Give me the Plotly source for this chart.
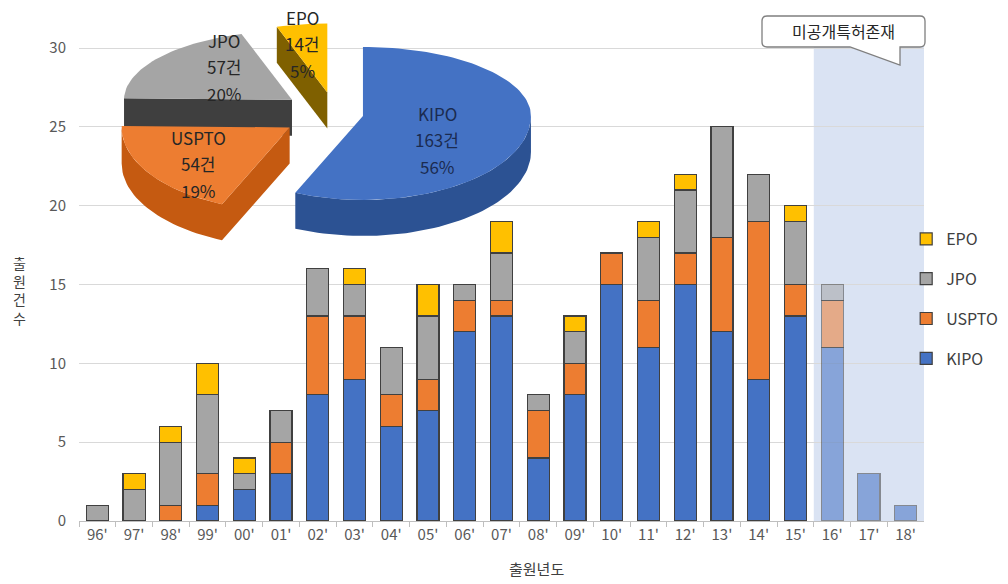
import math
import plotly.graph_objects as go

# ---------------- data ----------------
years = ["96'", "97'", "98'", "99'", "00'", "01'", "02'", "03'", "04'", "05'", "06'", "07'",
         "08'", "09'", "10'", "11'", "12'", "13'", "14'", "15'", "16'", "17'", "18'"]
kipo  = [0, 0, 0, 1, 2, 3, 8, 9, 6, 7, 12, 13, 4, 8, 15, 11, 15, 12, 9, 13, 11, 3, 1]
uspto = [0, 0, 1, 2, 0, 2, 5, 4, 2, 2, 2, 1, 3, 2, 2, 3, 2, 6, 10, 2, 3, 0, 0]
jpo   = [1, 2, 4, 5, 1, 2, 3, 2, 3, 4, 1, 3, 1, 2, 0, 4, 4, 7, 3, 4, 1, 0, 0]
epo   = [0, 1, 1, 2, 1, 0, 0, 1, 0, 2, 0, 2, 0, 1, 0, 1, 1, 0, 0, 1, 0, 0, 0]
unpublished_years = ["16'", "17'", "18'"]

offices = ["KIPO", "USPTO", "JPO", "EPO"]
office_pct = [56, 19, 20, 5]          # percentages as printed on the pie
callout_text = "미공개특허존재"

# ---------------- styles ----------------
FONT = "Noto Sans CJK KR"
colors = {"KIPO": "#4472c4", "USPTO": "#ed7d31", "JPO": "#a5a5a5", "EPO": "#ffc000"}
side_colors = {"KIPO": "#2c5293", "USPTO": "#c55a11", "JPO": "#3f3f3f", "EPO": "#7f6000"}
label_colors = {"KIPO": "#1b2b50", "USPTO": "#262626", "JPO": "#262626", "EPO": "#262626"}
legend_rank = {"EPO": 1, "JPO": 2, "USPTO": 3, "KIPO": 4}

W, H = 1008, 584
PX_L, PX_R, PX_T, PX_B = 79, 924, 46, 521
Y_MAX = (PX_B - PX_T) / ((521 - 48) / 30)

fig = go.Figure()

series = {"KIPO": kipo, "USPTO": uspto, "JPO": jpo, "EPO": epo}
opac = [0.55 if y in unpublished_years else 1.0 for y in years]
for name in ["KIPO", "USPTO", "JPO", "EPO"]:
    vals = [v if v else None for v in series[name]]
    fig.add_trace(go.Bar(
        x=years, y=vals, name=name, legendgroup=name, legendrank=legend_rank[name],
        marker=dict(color=colors[name], opacity=opac,
                    line=dict(color="#404040", width=1.2)),
        xaxis="x", yaxis="y",
    ))

# ---------------- 3D-style pie on a pixel overlay axis ----------------
totals = {name: sum(series[name]) for name in offices}
grand = sum(totals.values())
C0 = (335.0, 113.0)
RX, RY_BACK, RY_FRONT, DEPTH = 168.0, 69.0, 84.0, 36.0
explode = {"KIPO": 0.17, "USPTO": 0.32, "JPO": 0.32, "EPO": 0.30}


def ell(cx, cy, a):
    r = math.radians(a)
    s, c = math.sin(r), math.cos(r)
    ry = RY_BACK if c > 0 else RY_FRONT
    return (cx + RX * s, cy - ry * c)


def arc(cx, cy, a0, a1):
    n = max(2, int(abs(a1 - a0) / 2) + 1)
    return [ell(cx, cy, a0 + (a1 - a0) * i / (n - 1)) for i in range(n)]


angles = {}
acc = 0.0
for name in offices:
    frac = totals[name] / grand
    angles[name] = (acc * 360, (acc + frac) * 360)
    acc += frac

geom = {}
for name in offices:
    a0, a1 = angles[name]
    b = (a0 + a1) / 2
    dx, dy = ell(0, 0, b)
    cx, cy = C0[0] + dx * explode[name], C0[1] + dy * explode[name]
    top = [(cx, cy)] + arc(cx, cy, a0, a1) + [(cx, cy)]
    sides = []
    lo, hi = max(a0, 90), min(a1, 270)
    if hi > lo:
        pts = arc(cx, cy, lo, hi)
        sides.append(pts + [(x, y + DEPTH) for x, y in reversed(pts)])
    if math.sin(math.radians(a0)) < -1e-6:
        p = ell(cx, cy, a0)
        sides.append([(cx, cy), p, (p[0], p[1] + DEPTH), (cx, cy + DEPTH)])
    if math.sin(math.radians(a1)) > 1e-6:
        p = ell(cx, cy, a1)
        sides.append([(cx, cy), p, (p[0], p[1] + DEPTH), (cx, cy + DEPTH)])
    geom[name] = (top, sides)

for name in ["JPO", "EPO", "KIPO", "USPTO"]:
    top, sides = geom[name]
    sx, sy = [], []
    for poly in sides:
        sx += [p[0] for p in poly] + [poly[0][0], None]
        sy += [p[1] for p in poly] + [poly[0][1], None]
    if sx:
        fig.add_trace(go.Scatter(x=sx, y=sy, mode="lines", fill="toself",
                                 fillcolor=side_colors[name], line=dict(width=0),
                                 hoverinfo="skip", showlegend=False,
                                 xaxis="x2", yaxis="y2"))
    fig.add_trace(go.Scatter(x=[p[0] for p in top], y=[p[1] for p in top],
                             mode="lines", fill="toself", fillcolor=colors[name],
                             line=dict(width=0), hoverinfo="skip", showlegend=False,
                             xaxis="x2", yaxis="y2"))

label_pos = {"KIPO": (437, 113), "USPTO": (198, 137), "JPO": (224, 40), "EPO": (302, 17)}
annotations = []
for name, pct in zip(offices, office_pct):
    lx, ly = label_pos[name]
    lines = [name, f"{totals[name]}건", f"{pct}%"]
    for i, t in enumerate(lines):
        annotations.append(dict(
            x=lx, y=ly + i * 26.5, xref="x2", yref="y2", text=t, showarrow=False,
            font=dict(family=FONT, size=17, color=label_colors[name]),
            xanchor="center", yanchor="middle"))

# callout
annotations.append(dict(x=843, y=31, xref="x2", yref="y2", text=callout_text,
                        showarrow=False, font=dict(family=FONT, size=16, color="#262626"),
                        xanchor="center", yanchor="middle"))
# axis titles
annotations.append(dict(x=19, y=290, xref="x2", yref="y2", text="출<br>원<br>건<br>수",
                        showarrow=False, font=dict(family=FONT, size=14, color="#404040"),
                        xanchor="center", yanchor="middle"))
annotations.append(dict(x=536, y=568, xref="x2", yref="y2", text="출원년도",
                        showarrow=False, font=dict(family=FONT, size=15, color="#404040"),
                        xanchor="center", yanchor="middle"))

i_first = years.index(unpublished_years[0])
shapes = [
    dict(type="rect", xref="x", yref="y", x0=i_first - 0.5, x1=len(years) - 0.5,
         y0=0, y1=Y_MAX, fillcolor="#dae3f3", line=dict(width=0), layer="below"),
    dict(type="path", xref="x2", yref="y2",
         path="M 767,16 L 920,16 Q 925,16 925,21 L 925,42 Q 925,47 920,47 L 900,47 "
              "L 900,65 L 850,47 L 767,47 Q 762,47 762,42 L 762,21 Q 762,16 767,16 Z",
         fillcolor="white", line=dict(color="#7f7f7f", width=1.3), layer="above"),
]

fig.update_layout(
    width=W, height=H, autosize=False,
    margin=dict(l=0, r=0, t=0, b=0),
    paper_bgcolor="white", plot_bgcolor="rgba(0,0,0,0)",
    barmode="stack", bargap=0.40,
    font=dict(family=FONT, size=15, color="#595959"),
    xaxis=dict(domain=[PX_L / W, PX_R / W], type="category", anchor="y",
               showline=True, linecolor="#bfbfbf", linewidth=1,
               ticks="outside", tickson="boundaries", ticklen=5, tickcolor="#bfbfbf",
               showgrid=False, tickfont=dict(size=15, color="#595959"),
               fixedrange=True, automargin=False),
    yaxis=dict(domain=[(H - PX_B) / H, (H - PX_T) / H], range=[0, Y_MAX], anchor="x",
               tickvals=[0, 5, 10, 15, 20, 25, 30], showgrid=True, gridcolor="#d9d9d9",
               gridwidth=1, zeroline=False, showline=False, ticks="",
               ticklabelstandoff=12, tickfont=dict(size=15, color="#595959"),
               fixedrange=True, automargin=False),
    xaxis2=dict(domain=[0, 1], range=[0, W], visible=False, anchor="y2", fixedrange=True),
    yaxis2=dict(domain=[0, 1], range=[H, 0], visible=False, anchor="x2", fixedrange=True),
    legend=dict(x=0.899, y=1 - 222 / H, xanchor="left", yanchor="top",
                traceorder="grouped", tracegroupgap=16,
                font=dict(family=FONT, size=16, color="#404040"),
                bgcolor="rgba(0,0,0,0)"),
    annotations=annotations,
    shapes=shapes,
)

fig.write_html("out.html")
